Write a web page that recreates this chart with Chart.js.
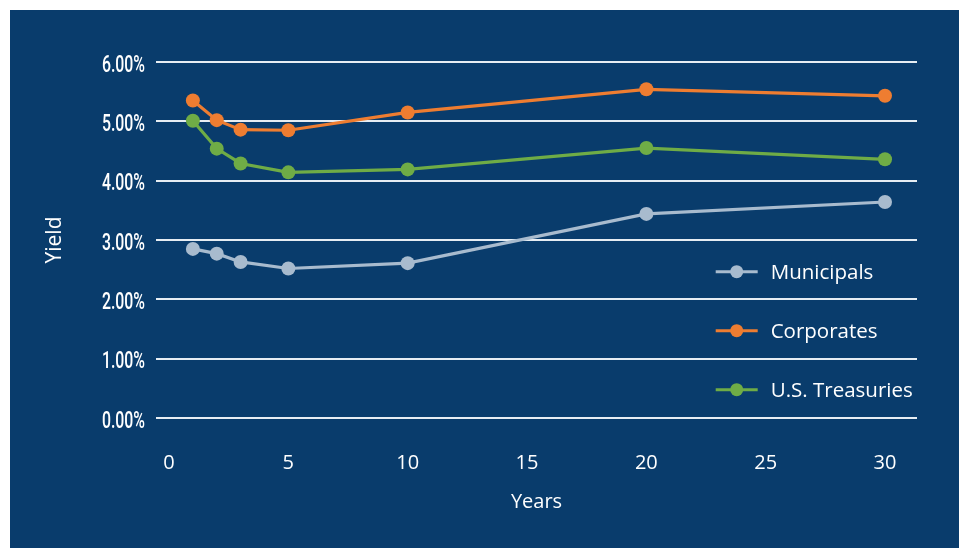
<!DOCTYPE html>
<html>
<head>
<meta charset="utf-8">
<title>Yield by maturity</title>
<script src="https://cdn.jsdelivr.net/npm/chart.js@4.4.1/dist/chart.umd.min.js"></script>
<style>
  html, body { margin: 0; padding: 0; background: #ffffff; }
  #panel { position: absolute; left: 10px; top: 10px; width: 949px; height: 538px; background: #093c6c; }
  canvas { display: block; }
</style>
</head>
<body>
<div id="panel"><canvas id="yieldChart" width="949" height="538"></canvas></div>
<script>
// Maturities (years) and yields (%)
const years = [1, 2, 3, 5, 10, 20, 30];
const municipals = [2.85, 2.77, 2.63, 2.52, 2.61, 3.44, 3.64];
const corporates = [5.35, 5.02, 4.86, 4.85, 5.15, 5.54, 5.43];
const treasuries = [5.01, 4.54, 4.29, 4.14, 4.19, 4.55, 4.36];
const seriesNames = ['Municipals', 'Corporates', 'U.S. Treasuries'];
const xTicks = [0, 5, 10, 15, 20, 25, 30];
const yTicks = [0, 1, 2, 3, 4, 5, 6];

const colors = {
  muni: '#a8bbce',
  corp: '#ee7d31',
  treas: '#6fac46',
  grid: '#e6edf3',
  text: '#ffffff'
};

function toPoints(values) {
  return years.map((yr, i) => ({ x: yr, y: values[i] }));
}

function lineDataset(label, values, color, order) {
  return {
    label: label,
    data: toPoints(values),
    borderColor: color,
    backgroundColor: color,
    borderWidth: 3.2,
    pointRadius: 7,
    pointBorderWidth: 0,
    pointBackgroundColor: color,
    tension: 0,
    order: order
  };
}

// Y tick labels in a narrow face (the original uses a condensed font)
const condensedYLabels = {
  id: 'condensedYLabels',
  afterDraw(chart) {
    const ctx = chart.ctx;
    const scale = chart.scales.y;
    ctx.save();
    ctx.fillStyle = colors.text;
    ctx.font = '500 24px Roboto';
    ctx.textAlign = 'right';
    ctx.textBaseline = 'alphabetic';
    scale.ticks.forEach(t => {
      const py = scale.getPixelForValue(t.value);
      ctx.save();
      ctx.translate(chart.chartArea.left - 11, py + 9.5);
      ctx.scale(0.66, 1);
      ctx.fillText(t.value.toFixed(2) + '%', 0, 0);
      ctx.restore();
    });
    ctx.restore();
  }
};

// Legend drawn inside the plot area, one entry per row
const insideLegend = {
  id: 'insideLegend',
  afterDraw(chart, args, opts) {
    const ctx = chart.ctx;
    ctx.save();
    ctx.font = '20.5px "Open Sans"';
    ctx.textAlign = 'left';
    ctx.textBaseline = 'alphabetic';
    seriesNames.forEach((name, i) => {
      const ds = chart.data.datasets.find(d => d.label === name);
      const cy = opts.top + i * opts.gap;
      const x0 = opts.left;
      ctx.strokeStyle = ds.borderColor;
      ctx.lineWidth = 3;
      ctx.beginPath();
      ctx.moveTo(x0, cy);
      ctx.lineTo(x0 + 42, cy);
      ctx.stroke();
      ctx.fillStyle = ds.borderColor;
      ctx.beginPath();
      ctx.arc(x0 + 21, cy, 6.5, 0, Math.PI * 2);
      ctx.fill();
      ctx.fillStyle = colors.text;
      ctx.fillText(name, x0 + 55, cy + 7);
    });
    ctx.restore();
  }
};

const ctx = document.getElementById('yieldChart').getContext('2d');
const yieldChart = new Chart(ctx, {
  type: 'line',
  data: {
    datasets: [
      lineDataset(seriesNames[0], municipals, colors.muni, 2),
      lineDataset(seriesNames[1], corporates, colors.corp, 1),
      lineDataset(seriesNames[2], treasuries, colors.treas, 0)
    ]
  },
  options: {
    responsive: false,
    animation: false,
    layout: { padding: { top: 52, right: 42, bottom: 0, left: 0 } },
    scales: {
      x: {
        type: 'linear',
        min: -0.545,
        max: 31.34,
        afterBuildTicks: scale => { scale.ticks = xTicks.map(v => ({ value: v })); },
        afterFit: scale => { scale.height = 130; },
        grid: { display: false },
        border: { display: false },
        ticks: {
          color: colors.text,
          font: { family: 'Open Sans', size: 20 },
          padding: 25,
          maxRotation: 0
        },
        title: {
          display: true,
          text: 'Years',
          color: colors.text,
          font: { family: 'Open Sans', size: 20 },
          padding: { top: 0, bottom: 34 }
        }
      },
      y: {
        min: 0,
        max: 6,
        afterBuildTicks: scale => { scale.ticks = yTicks.map(v => ({ value: v })); },
        afterFit: scale => { scale.width = 146; },
        grid: { color: colors.grid, lineWidth: 2, drawTicks: false },
        border: { display: false },
        ticks: { display: false },
        title: {
          display: true,
          text: 'Yield',
          color: colors.text,
          font: { family: 'Open Sans', size: 21 },
          padding: { top: 32, bottom: 0 }
        }
      }
    },
    plugins: {
      legend: { display: false },
      tooltip: { enabled: false },
      insideLegend: { left: 705.7, top: 261.7, gap: 59 }
    }
  },
  plugins: [condensedYLabels, insideLegend]
});
</script>
</body>
</html>
